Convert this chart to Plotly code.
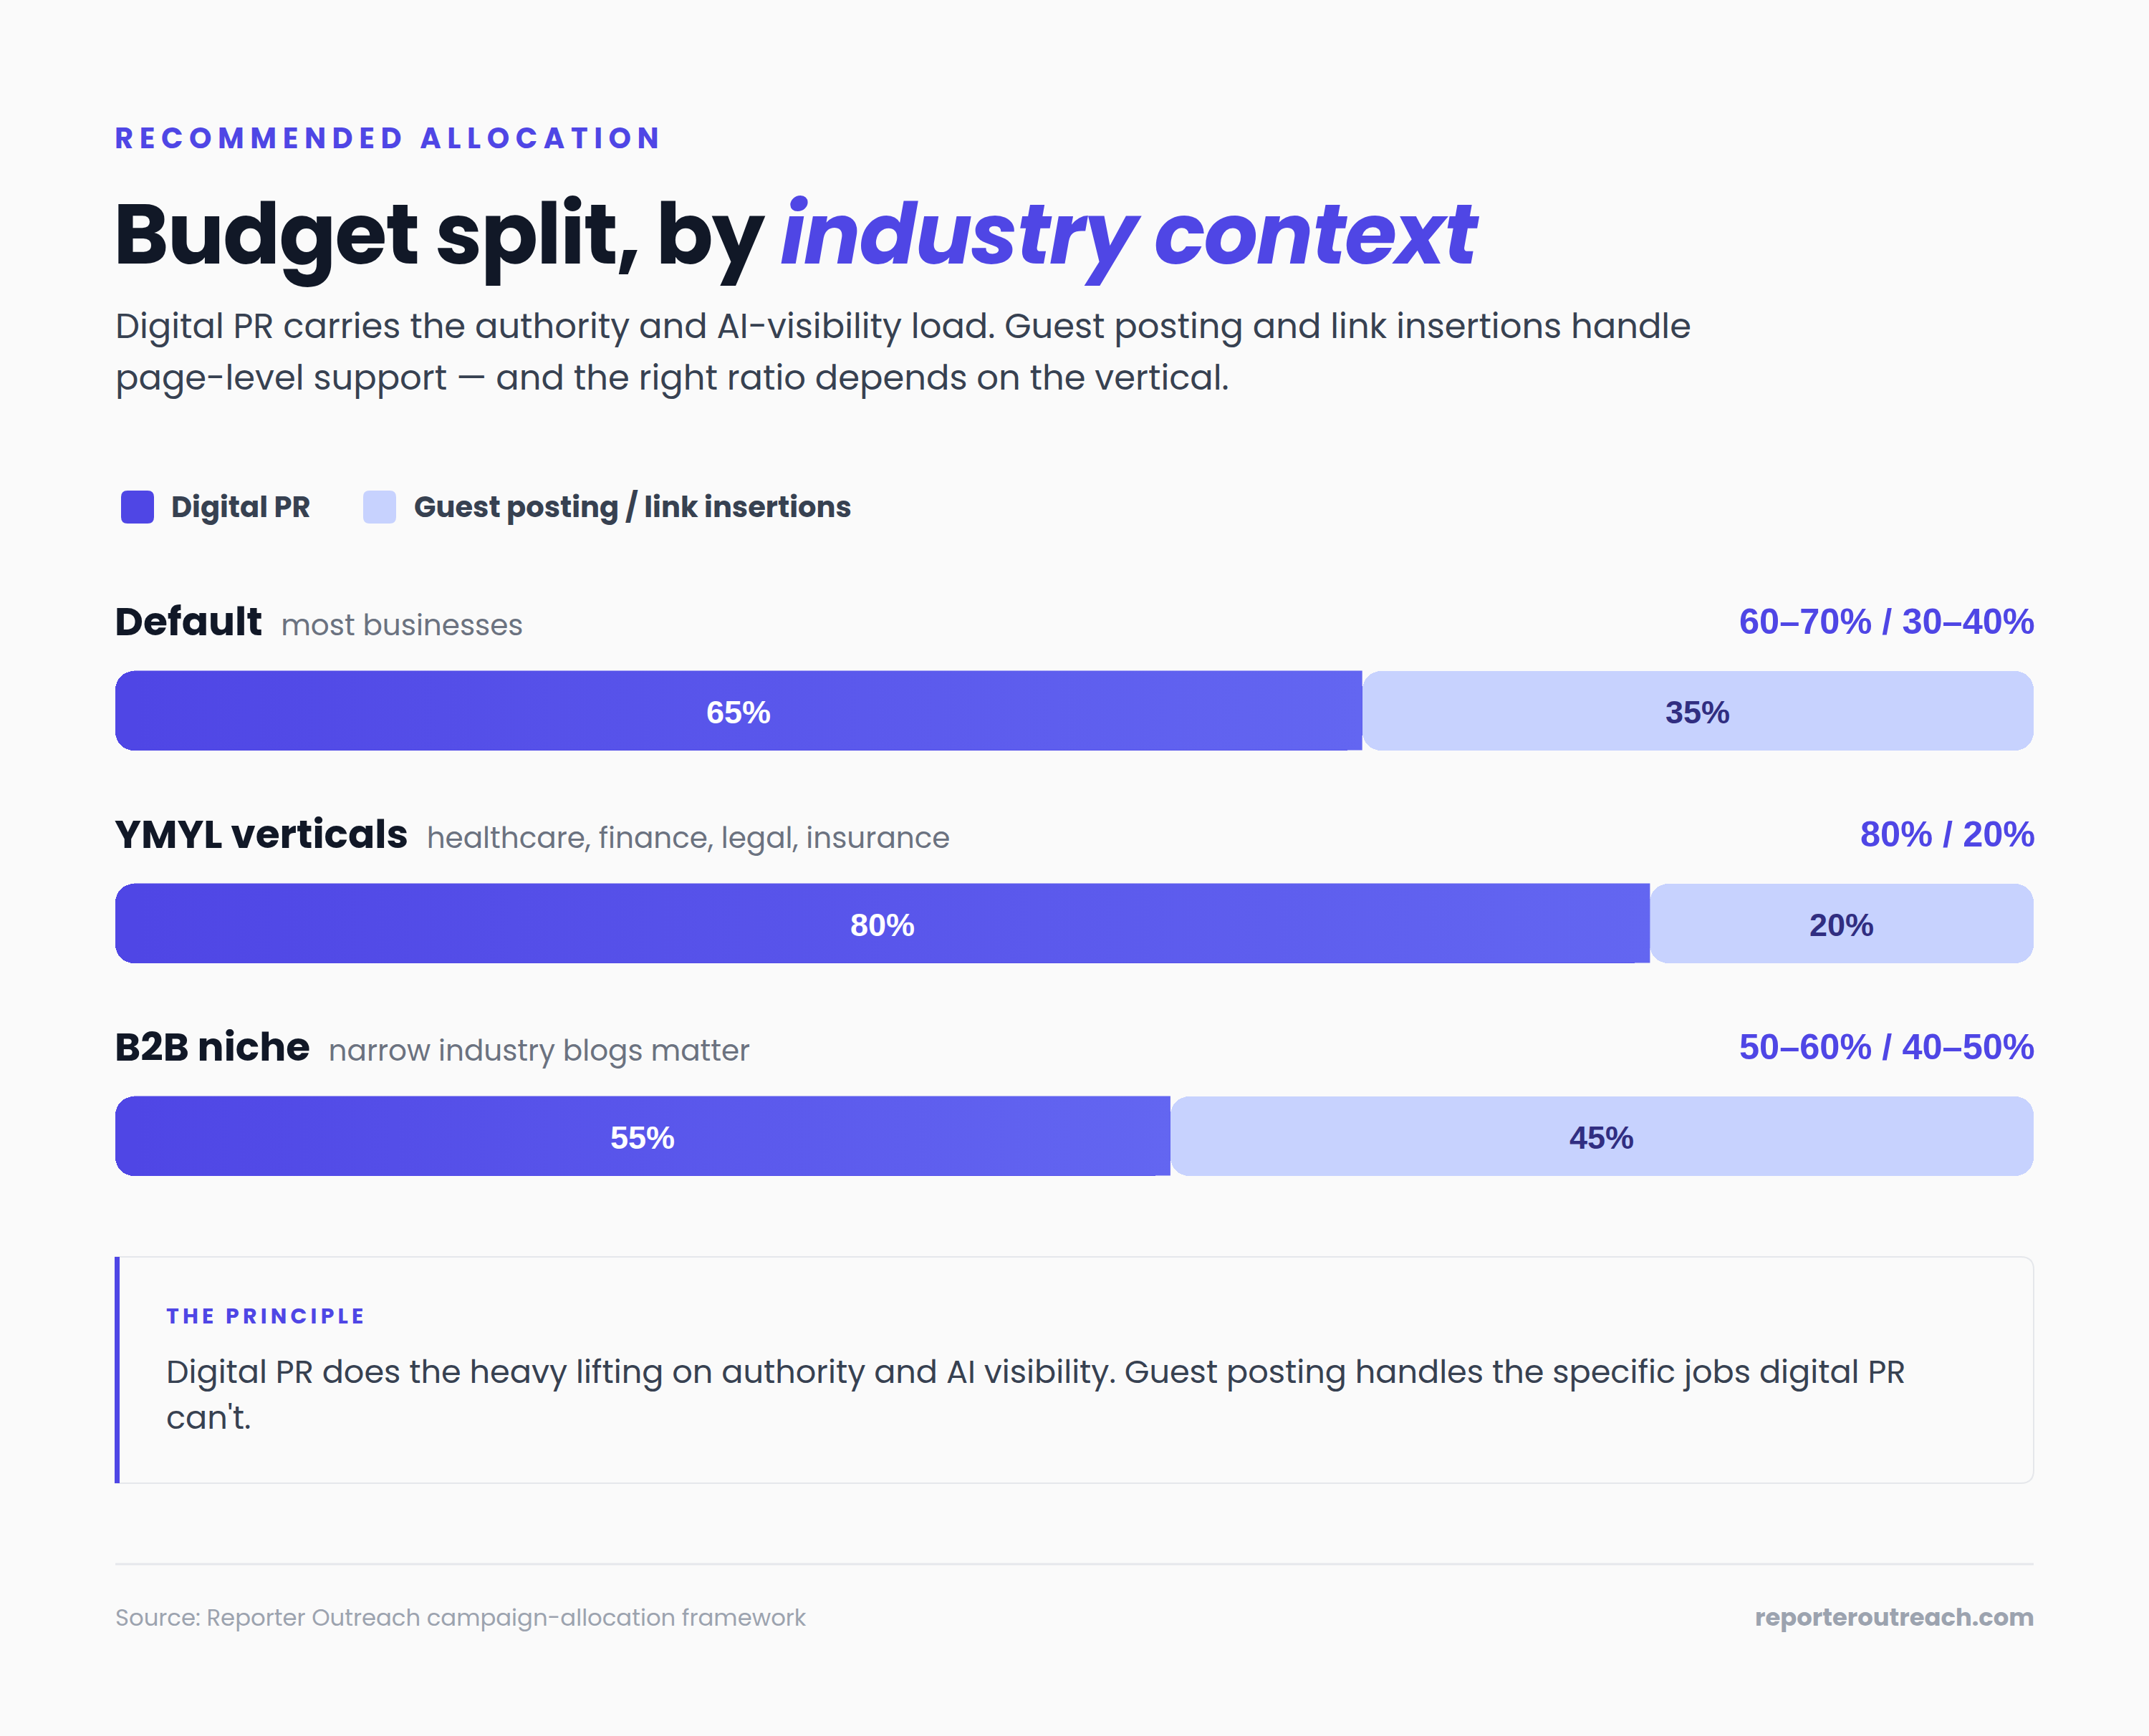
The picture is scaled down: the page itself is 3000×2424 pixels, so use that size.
import plotly.graph_objects as go

# ---------------- data ----------------
categories = ["Default", "YMYL verticals", "B2B niche"]
subtitles = ["most businesses", "healthcare, finance, legal, insurance", "narrow industry blogs matter"]
digital_pr = [65, 80, 55]
guest_posting = [35, 20, 45]
range_labels = ["60–70% / 30–40%", "80% / 20%", "50–60% / 40–50%"]
series_names = ["Digital PR", "Guest posting / link insertions"]

# ---------------- styling ----------------
W, H = 3000, 2424
BG = "#fafafa"
ACCENT = "#4f46e5"
ACCENT2 = "#6366f1"
LIGHT = "#c7d2fe"
DARK = "#111827"
BODY = "#374151"
MUTED = "#6b7280"
FOOT = "#9ca3af"
FONT = "Poppins, Inter, sans-serif"
NUMFONT = "Arial, 'Liberation Sans', Helvetica, sans-serif"

X0_PX, X1_PX = 161, 2839           # plot area left/right
ROW0_PX, ROW_STEP = 992, 297       # first bar centre, spacing
BAR_PX = 111
CORNER = 26

px_per_unit = (X1_PX - X0_PX) / 100.0
y_top = -ROW0_PX / ROW_STEP
y_bot = (H - ROW0_PX) / ROW_STEP
bar_w = BAR_PX / ROW_STEP
label_off = 125 / ROW_STEP


def px(x):
    return x / W


def py(y):
    return 1 - y / H


def rrect(x0, y0, x1, y1, r_left, r_right):
    """Rounded rectangle path in paper coords, from pixel box."""
    def P(x, y):
        return f"{px(x):.6f},{py(y):.6f}"
    s = f"M {P(x0 + r_left, y0)} L {P(x1 - r_right, y0)} "
    s += f"Q {P(x1, y0)} {P(x1, y0 + r_right)} " if r_right else ""
    s += f"L {P(x1, y1 - r_right)} "
    s += f"Q {P(x1, y1)} {P(x1 - r_right, y1)} " if r_right else ""
    s += f"L {P(x0 + r_left, y1)} "
    s += f"Q {P(x0, y1)} {P(x0, y1 - r_left)} " if r_left else ""
    s += f"L {P(x0, y0 + r_left)} "
    s += f"Q {P(x0, y0)} {P(x0 + r_left, y0)} " if r_left else ""
    return s + "Z"


fig = go.Figure()
rows = list(range(len(categories)))

# Digital PR bar: drawn from its end back to 0 so the rounded end is on the left
fig.add_trace(go.Bar(
    y=rows, x=[-v for v in digital_pr], base=digital_pr, orientation="h",
    width=bar_w, marker=dict(color=ACCENT, cornerradius=CORNER, line=dict(width=0)),
    name=series_names[0], showlegend=False, hoverinfo="skip",
))
# Guest posting bar: starts where Digital PR ends, rounded on the right
fig.add_trace(go.Bar(
    y=rows, x=guest_posting, base=digital_pr, orientation="h",
    width=bar_w, marker=dict(color=LIGHT, cornerradius=CORNER, line=dict(width=0)),
    name=series_names[1], showlegend=False, hoverinfo="skip",
))

# gradient overlay on the Digital PR segment (past the rounded corner)
r_units = CORNER / px_per_unit
for i, v in enumerate(digital_pr):
    xs = [r_units, v, v, r_units, r_units]
    ys = [i - bar_w / 2, i - bar_w / 2, i + bar_w / 2, i + bar_w / 2, i - bar_w / 2]
    fig.add_trace(go.Scatter(
        x=xs, y=ys, mode="lines", fill="toself", line=dict(width=0),
        fillcolor=ACCENT,
        fillgradient=dict(type="horizontal", colorscale=[[0, ACCENT], [1, ACCENT2]]),
        showlegend=False, hoverinfo="skip",
    ))

ann = []
# value labels inside bars
for i, (p, g) in enumerate(zip(digital_pr, guest_posting)):
    ann.append(dict(x=p / 2, y=i, xref="x", yref="y", xanchor="center", yanchor="middle",
                    yshift=-2, showarrow=False, text=f"<b>{p}%</b>",
                    font=dict(family=NUMFONT, size=45, color="#ffffff")))
    ann.append(dict(x=p + g / 2, y=i, xref="x", yref="y", xanchor="center", yanchor="middle",
                    yshift=-2, showarrow=False, text=f"<b>{g}%</b>",
                    font=dict(family=NUMFONT, size=45, color="#312e81")))

# row headers
for i, (c, s, r) in enumerate(zip(categories, subtitles, range_labels)):
    ann.append(dict(
        x=0, y=i - label_off, xref="x", yref="y", xanchor="left", yanchor="middle",
        xshift=-3, showarrow=False,
        text=f"<b>{c}</b>\u00a0<span style='font-size:40.5px;font-weight:400;color:{MUTED}'>\u00a0{s}</span>",
        font=dict(family=FONT, size=55, color=DARK),
    ))
    ann.append(dict(
        x=100, y=i - label_off, xref="x", yref="y", xanchor="right", yanchor="middle",
        xshift=4, showarrow=False, text=f"<b>{r}</b>",
        font=dict(family=NUMFONT, size=50.5, color=ACCENT),
    ))

# header texts
ann.append(dict(x=px(158), y=py(193), xref="paper", yref="paper", xanchor="left", yanchor="middle",
                showarrow=False,
                text="<span style='letter-spacing:8.6px'><b>RECOMMENDED ALLOCATION</b></span>",
                font=dict(family=FONT, size=40, color=ACCENT)))
ann.append(dict(x=px(156), y=py(326), xref="paper", yref="paper", xanchor="left", yanchor="middle",
                showarrow=False,
                text=f"<span style='letter-spacing:-2px'><b>Budget split, by </b><b><i style='color:{ACCENT}'>industry context</i></b></span>",
                font=dict(family=FONT, size=118, color=DARK)))
ann.append(dict(x=px(159), y=py(456), xref="paper", yref="paper", xanchor="left", yanchor="middle",
                showarrow=False,
                text="Digital PR carries the authority and AI-visibility load. Guest posting and link insertions handle",
                font=dict(family=FONT, size=48, color=BODY)))
ann.append(dict(x=px(159), y=py(527), xref="paper", yref="paper", xanchor="left", yanchor="middle",
                showarrow=False,
                text="page-level support — and the right ratio depends on the vertical.",
                font=dict(family=FONT, size=48, color=BODY)))

# legend
legend_items = [(ACCENT, series_names[0], 169, 237), (LIGHT, series_names[1], 507, 576)]
shapes = []
for col, name, sx, tx in legend_items:
    shapes.append(dict(type="path", xref="paper", yref="paper",
                       path=rrect(sx, 685, sx + 46, 731, 9, 9),
                       fillcolor=col, line=dict(width=0)))
    ann.append(dict(x=px(tx), y=py(708), xref="paper", yref="paper", xanchor="left", yanchor="middle",
                    showarrow=False, text=f"<b>{name}</b>",
                    font=dict(family=FONT, size=40, color=BODY)))

# principle box
shapes.append(dict(type="path", xref="paper", yref="paper",
                   path=rrect(161, 1755, 2839, 2071, 0, 18),
                   fillcolor="rgba(0,0,0,0)", line=dict(color="#e5e7eb", width=2)))
shapes.append(dict(type="rect", xref="paper", yref="paper",
                   x0=px(160), x1=px(167), y0=py(1755), y1=py(2071),
                   fillcolor=ACCENT, line=dict(width=0)))
ann.append(dict(x=px(230), y=py(1837), xref="paper", yref="paper", xanchor="left", yanchor="middle",
                showarrow=False,
                text="<span style='letter-spacing:5.2px'><b>THE PRINCIPLE</b></span>",
                font=dict(family=FONT, size=30, color=ACCENT)))
ann.append(dict(x=px(230), y=py(1915), xref="paper", yref="paper", xanchor="left", yanchor="middle",
                showarrow=False,
                text="Digital PR does the heavy lifting on authority and AI visibility. Guest posting handles the specific jobs digital PR",
                font=dict(family=FONT, size=44.6, color=BODY)))
ann.append(dict(x=px(230), y=py(1980), xref="paper", yref="paper", xanchor="left", yanchor="middle",
                showarrow=False, text="can't.",
                font=dict(family=FONT, size=44.6, color=BODY)))

# footer
shapes.append(dict(type="line", xref="paper", yref="paper",
                   x0=px(161), x1=px(2839), y0=py(2184), y1=py(2184),
                   line=dict(color="#e5e7eb", width=3)))
ann.append(dict(x=px(159), y=py(2258), xref="paper", yref="paper", xanchor="left", yanchor="middle",
                showarrow=False, text="Source: Reporter Outreach campaign-allocation framework",
                font=dict(family=FONT, size=32.3, color=FOOT)))
ann.append(dict(x=px(2842), y=py(2258), xref="paper", yref="paper", xanchor="right", yanchor="middle",
                showarrow=False, text="<b>reporteroutreach.com</b>",
                font=dict(family=FONT, size=33.8, color=FOOT)))

fig.update_layout(
    width=W, height=H, margin=dict(l=0, r=0, t=0, b=0),
    paper_bgcolor=BG, plot_bgcolor=BG,
    barmode="overlay", bargap=0,
    xaxis=dict(domain=[X0_PX / W, X1_PX / W], range=[0, 100], visible=False, fixedrange=True),
    yaxis=dict(domain=[0, 1], range=[y_bot, y_top], visible=False, fixedrange=True),
    annotations=ann, shapes=shapes,
    showlegend=False,
)

fig.write_html("out.html")
